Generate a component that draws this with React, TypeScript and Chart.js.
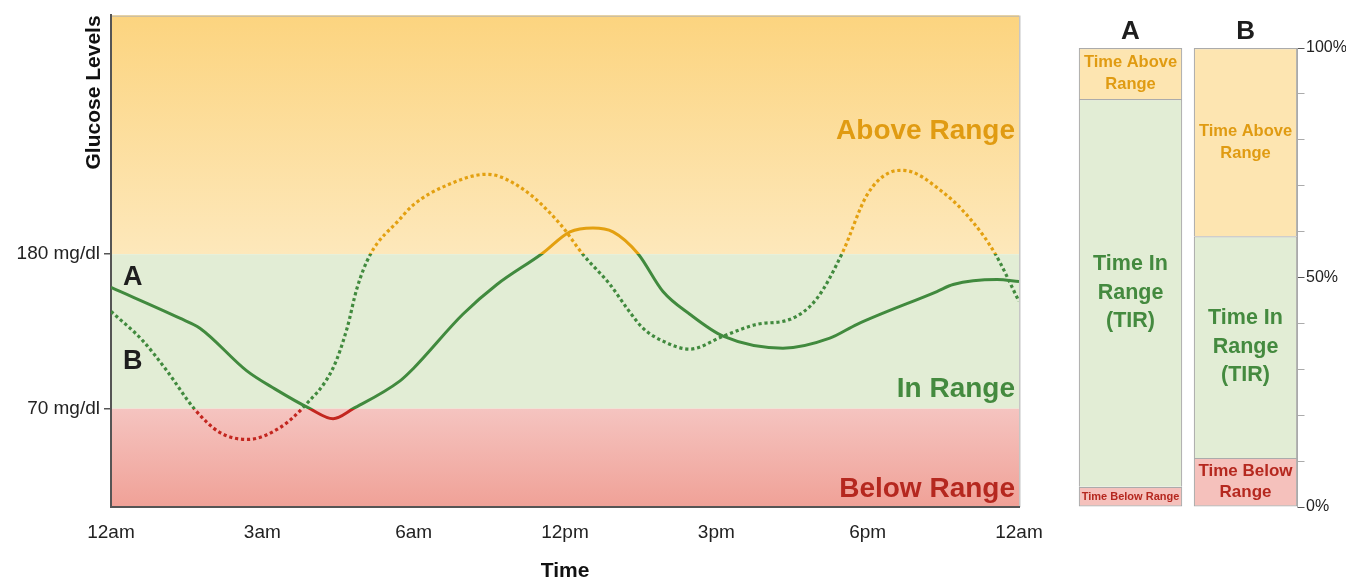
import React, { useEffect, useRef } from 'react';
import { Chart, registerables } from 'chart.js';

Chart.register(...registerables);

const FONT = '"Liberation Sans", Arial, Helvetica, sans-serif';
Chart.defaults.font.family = FONT;

// ---------- Glucose trace chart data ----------
const timeTickLabels = ['12am', '3am', '6am', '12pm', '3pm', '6pm', '12am'];
const timeTickStep = 4; // axis runs 0..24, labels every 4 units

const rangeThresholds = [70, 180];
const thresholdLabels = ['70 mg/dl', '180 mg/dl'];

const lineAX = [0, 1.82, 2.35, 3.59, 4.33, 5.26, 5.87, 6.4, 7.64, 7.98, 9.3, 10.2, 11.39, 12.13, 12.74, 13.27, 13.93, 14.59, 15.3, 16.18, 17.76, 19.0, 19.72, 21.83, 22.26, 23.42, 24];
const lineAY = [156.3, 134.4, 127.3, 96.9, 84.1, 70.0, 62.9, 70.0, 89.8, 98.3, 137.2, 158.4, 180.3, 195.9, 198.7, 195.9, 180.3, 153.4, 137.2, 121.6, 113.1, 120.2, 130.1, 153.4, 158.4, 161.9, 160.5];

const lineBX = [0, 0.85, 1.48, 2.22, 2.88, 3.62, 4.47, 5.07, 5.87, 6.24, 6.5, 6.85, 7.64, 7.98, 8.88, 9.94, 10.89, 11.87, 12.48, 13.19, 13.64, 14.06, 14.59, 15.3, 16.18, 17.08, 17.95, 18.66, 19.32, 19.98, 20.59, 20.93, 21.99, 22.78, 23.37, 24];
const lineBY = [139.3, 118.1, 96.9, 69.3, 53.0, 48.1, 56.6, 70.7, 99.0, 127.3, 155.6, 179.6, 205.1, 214.9, 229.1, 236.9, 226.3, 201.5, 179.6, 158.4, 141.4, 127.3, 118.1, 112.4, 121.6, 130.1, 133.6, 148.5, 180.3, 222.0, 238.3, 239.7, 224.1, 202.9, 180.3, 146.4];

const zoneNames = ['Below Range', 'In Range', 'Above Range'];
const zoneLabelBaselines = [7, 78.5, 262];
const lineNames = ['A', 'B'];
const lineLabelX = [0.32, 0.32];
const lineLabelBaselines = [158.4, 98.3];

// ---------- Time-in-range bars data ----------
const barGroups = ['A', 'B'];
const timeBelowRange = [4.4, 10.7];
const timeInRange = [84.5, 48.3];
const timeAboveRange = [11.1, 41.0];
const percentLabelValues = [0, 50, 100];

const belowText = [['Time Below Range'], ['Time Below', 'Range']];
const inText = [['Time In', 'Range', '(TIR)'], ['Time In', 'Range', '(TIR)']];
const aboveText = [['Time Above', 'Range'], ['Time Above', 'Range']];

// ---------- styles ----------
const COLORS = {
  orange: '#E3A010',
  green: '#418A3E',
  red: '#C3261F',
  orangeText: '#E09B12',
  greenText: '#448A3F',
  redText: '#B5281F',
  tarFill: '#FDE5B1',
  tirFill: '#E2EDD5',
  tbrFill: '#F5C1BC',
  barBorder: '#ABABAB',
  axis: '#555555',
  text: '#1E1E1E',
};

const segmentStyles = [
  { color: COLORS.redText, sizes: [11, 17], lineHeights: [13, 21] },
  { color: COLORS.greenText, sizes: [21.5, 21.5], lineHeights: [28.5, 28.5] },
  { color: COLORS.orangeText, sizes: [16.5, 16.5], lineHeights: [22, 22] },
];
const segmentTexts = [belowText, inText, aboveText];

function rangeGradient(context: any) {
  const chart = context.chart;
  const area = chart.chartArea;
  const y = chart.scales && chart.scales.y;
  if (!area || !y) return COLORS.green;
  const ctx = chart.ctx;
  const h = area.bottom - area.top;
  const f180 = Math.min(1, Math.max(0, (y.getPixelForValue(rangeThresholds[1]) - area.top) / h));
  const f70 = Math.min(1, Math.max(0, (y.getPixelForValue(rangeThresholds[0]) - area.top) / h));
  const g = ctx.createLinearGradient(0, area.top, 0, area.bottom);
  g.addColorStop(0, COLORS.orange);
  g.addColorStop(f180, COLORS.orange);
  g.addColorStop(f180, COLORS.green);
  g.addColorStop(f70, COLORS.green);
  g.addColorStop(f70, COLORS.red);
  g.addColorStop(1, COLORS.red);
  return g;
}

const zonePlugin = {
  id: 'glucoseZones',
  beforeDraw(chart: any) {
    const { ctx, chartArea: a, scales } = chart;
    const y = scales.y;
    const y180 = y.getPixelForValue(rangeThresholds[1]);
    const y70 = y.getPixelForValue(rangeThresholds[0]);
    ctx.save();
    let g = ctx.createLinearGradient(0, a.top, 0, y180);
    g.addColorStop(0, '#FCD47F');
    g.addColorStop(1, '#FDE8BB');
    ctx.fillStyle = g;
    ctx.fillRect(a.left, a.top, a.right - a.left, y180 - a.top);
    ctx.fillStyle = '#E2EDD5';
    ctx.fillRect(a.left, y180, a.right - a.left, y70 - y180);
    g = ctx.createLinearGradient(0, y70, 0, a.bottom);
    g.addColorStop(0, '#F5C4C0');
    g.addColorStop(1, '#F0A197');
    ctx.fillStyle = g;
    ctx.fillRect(a.left, y70, a.right - a.left, a.bottom - y70);
    ctx.strokeStyle = '#CDBF9F';
    ctx.lineWidth = 1.5;
    ctx.beginPath();
    ctx.moveTo(a.left, a.top + 0.75);
    ctx.lineTo(a.right, a.top + 0.75);
    ctx.stroke();
    ctx.strokeStyle = '#C6C6C6';
    ctx.beginPath();
    ctx.moveTo(a.right + 0.75, a.top);
    ctx.lineTo(a.right + 0.75, a.bottom);
    ctx.stroke();
    ctx.restore();
  },
  beforeDatasetsDraw(chart: any) {
    const { ctx, chartArea: a, scales } = chart;
    const y = scales.y;
    const x = scales.x;
    const zoneColors = [COLORS.redText, COLORS.greenText, COLORS.orangeText];
    ctx.save();
    ctx.font = `bold 28px ${FONT}`;
    ctx.textAlign = 'right';
    ctx.textBaseline = 'alphabetic';
    zoneNames.forEach((name, i) => {
      ctx.fillStyle = zoneColors[i];
      ctx.fillText(name, a.right - 4, y.getPixelForValue(zoneLabelBaselines[i]));
    });
    ctx.font = `bold 27px ${FONT}`;
    ctx.textAlign = 'left';
    ctx.fillStyle = COLORS.text;
    lineNames.forEach((name, i) => {
      ctx.fillText(name, x.getPixelForValue(lineLabelX[i]), y.getPixelForValue(lineLabelBaselines[i]));
    });
    ctx.restore();
  },
};

const barTextPlugin = {
  id: 'barSegmentText',
  afterDatasetsDraw(chart: any) {
    const { ctx } = chart;
    ctx.save();
    ctx.textAlign = 'center';
    ctx.textBaseline = 'middle';
    chart.data.datasets.forEach((_: any, di: number) => {
      const meta = chart.getDatasetMeta(di);
      const style = segmentStyles[di];
      meta.data.forEach((el: any, i: number) => {
        const lines = segmentTexts[di][i];
        const size = style.sizes[i];
        const lh = style.lineHeights[i];
        const cy = (el.y + el.base) / 2;
        ctx.font = `bold ${size}px ${FONT}`;
        ctx.fillStyle = style.color;
        const start = cy - ((lines.length - 1) * lh) / 2;
        lines.forEach((line: string, li: number) => {
          ctx.fillText(line, el.x, start + li * lh);
        });
      });
    });
    ctx.restore();
  },
};

export default function App() {
  const lineRef = useRef<HTMLCanvasElement | null>(null);
  const barRef = useRef<HTMLCanvasElement | null>(null);

  useEffect(() => {
    if (!lineRef.current || !barRef.current) return;

    const glucoseChart = new Chart(lineRef.current, {
      type: 'line',
      data: {
        datasets: [
          {
            label: lineNames[0],
            data: lineAX.map((x, i) => ({ x, y: lineAY[i] })),
            borderColor: rangeGradient,
            borderWidth: 3,
            cubicInterpolationMode: 'monotone',
            pointRadius: 0,
            fill: false,
          },
          {
            label: lineNames[1],
            data: lineBX.map((x, i) => ({ x, y: lineBY[i] })),
            borderColor: rangeGradient,
            borderWidth: 3.2,
            borderDash: [3.2, 2.8],
            borderCapStyle: 'butt',
            cubicInterpolationMode: 'monotone',
            pointRadius: 0,
            fill: false,
          },
        ],
      },
      options: {
        animation: false,
        responsive: false,
        maintainAspectRatio: false,
        layout: { padding: { left: 0, top: 12, right: 41, bottom: 0 } },
        plugins: { legend: { display: false }, tooltip: { enabled: false } },
        scales: {
          x: {
            type: 'linear',
            min: 0,
            max: (timeTickLabels.length - 1) * timeTickStep,
            afterBuildTicks: (s: any) => {
              s.ticks = timeTickLabels.map((_, i) => ({ value: i * timeTickStep }));
            },
            afterFit: (s: any) => {
              s.height = 74;
            },
            grid: { display: false },
            border: { display: true, color: COLORS.axis, width: 2 },
            ticks: {
              autoSkip: false,
              maxRotation: 0,
              padding: 6,
              color: '#222',
              font: { family: FONT, size: 19 },
              callback: (_v: any, i: number) => timeTickLabels[i],
            },
            title: {
              display: true,
              text: 'Time',
              color: '#111',
              padding: { top: 0, bottom: 0 },
              font: { family: FONT, size: 21, weight: 'bold', lineHeight: 0.9 },
            },
          },
          y: {
            min: 0,
            max: 350,
            afterBuildTicks: (s: any) => {
              s.ticks = rangeThresholds.map((v) => ({ value: v }));
            },
            afterFit: (s: any) => {
              s.width = 111;
            },
            grid: { drawOnChartArea: false, tickLength: 7, color: COLORS.axis, lineWidth: 1.5 },
            border: { display: true, color: COLORS.axis, width: 2 },
            ticks: {
              padding: 4,
              color: '#222',
              font: { family: FONT, size: 19 },
              callback: (v: any) => thresholdLabels[rangeThresholds.indexOf(Number(v))],
            },
            title: {
              display: true,
              text: 'Glucose Levels',
              align: 'end',
              color: '#111',
              padding: { top: 83.5, bottom: 0 },
              font: { family: FONT, size: 21, weight: 'bold', lineHeight: 1 },
            },
          },
        },
      },
      plugins: [zonePlugin],
    } as any);

    const borderTop = { top: 1.2, left: 1.2, right: 1.2, bottom: 0 };
    const borderAll = { top: 1.2, left: 1.2, right: 1.2, bottom: 1.2 };
    const barSeries = [
      { label: 'Time Below Range', values: timeBelowRange, fill: COLORS.tbrFill, border: borderAll },
      { label: 'Time In Range', values: timeInRange, fill: COLORS.tirFill, border: borderTop },
      { label: 'Time Above Range', values: timeAboveRange, fill: COLORS.tarFill, border: borderTop },
    ];

    const tirChart = new Chart(barRef.current, {
      type: 'bar',
      data: {
        datasets: barSeries.map((s) => ({
          label: s.label,
          data: barGroups.map((_, i) => ({ x: i, y: s.values[i] })),
          backgroundColor: s.fill,
          borderColor: COLORS.barBorder,
          borderWidth: s.border,
          borderSkipped: false,
          barPercentage: 0.9,
          categoryPercentage: 1,
        })),
      },
      options: {
        animation: false,
        responsive: false,
        maintainAspectRatio: false,
        layout: { padding: { left: 13, top: 0, right: 0, bottom: 74 } },
        plugins: { legend: { display: false }, tooltip: { enabled: false } },
        scales: {
          x: {
            type: 'linear',
            position: 'top',
            stacked: true,
            offset: false,
            min: -0.5,
            max: 1.452,
            afterBuildTicks: (s: any) => {
              s.ticks = barGroups.map((_, i) => ({ value: i }));
            },
            afterFit: (s: any) => {
              s.height = 48;
            },
            grid: { display: false, offset: false },
            border: { display: false },
            ticks: {
              autoSkip: false,
              maxRotation: 0,
              padding: -7,
              color: COLORS.text,
              font: { family: FONT, size: 26, weight: 'bold' },
              callback: (_v: any, i: number) => barGroups[i],
            },
          },
          y: {
            position: 'right',
            stacked: true,
            min: 0,
            max: 100,
            afterFit: (s: any) => {
              s.width = 48.5;
            },
            grid: {
              drawOnChartArea: false,
              tickLength: 7,
              lineWidth: 1,
              color: (c: any) => (c.tick && percentLabelValues.includes(c.tick.value) ? COLORS.axis : '#ABABAB'),
            },
            border: { display: true, color: '#ABABAB', width: 1 },
            ticks: {
              stepSize: 10,
              padding: 1.5,
              color: '#222',
              font: { family: FONT, size: 16 },
              callback: (v: any) => (percentLabelValues.includes(Number(v)) ? `${v}%` : ''),
            },
          },
        },
      },
      plugins: [barTextPlugin],
    } as any);

    return () => {
      glucoseChart.destroy();
      tirChart.destroy();
    };
  }, []);

  return (
    <div style={{ position: 'absolute', left: 0, top: 0, width: 1346, height: 581, background: '#fff' }}>
      <canvas
        ref={lineRef}
        width={1060}
        height={581}
        style={{ position: 'absolute', left: 0, top: 0, width: 1060, height: 581 }}
      />
      <canvas
        ref={barRef}
        width={286}
        height={581}
        style={{ position: 'absolute', left: 1060, top: 0, width: 286, height: 581 }}
      />
    </div>
  );
}
